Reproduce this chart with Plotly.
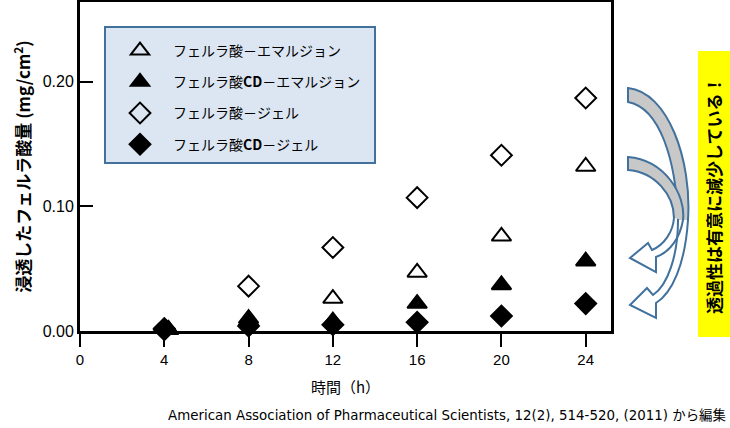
import plotly.graph_objects as go

# ---- data ----
series_names = [
    "フェルラ酸－エマルジョン",
    "フェルラ酸<b>CD</b>－エマルジョン",
    "フェルラ酸－ジェル",
    "フェルラ酸<b>CD</b>－ジェル",
]
time_emulsion = [4.2, 8, 12, 16, 20, 24]
time_gel = [4, 8, 12, 16, 20, 24]
fa_emulsion = [0.001, 0.010, 0.026, 0.047, 0.076, 0.132]
facd_emulsion = [0.001, 0.008, 0.008, 0.022, 0.037, 0.056]
fa_gel = [0.002, 0.036, 0.067, 0.107, 0.141, 0.187]
facd_gel = [0.001, 0.004, 0.005, 0.007, 0.012, 0.022]
x_ticks = [0, 4, 8, 12, 16, 20, 24]
y_ticks = [0.0, 0.1, 0.2]

# ---- layout geometry (pixels) ----
W, H = 730, 428
L, R, T, B = 80, 611, 2, 331
pw, ph = R - L, B - T


def px(x, y):
    return (x - L) / pw, (B - y) / ph


def path(cmds):
    out = []
    for c in cmds:
        if isinstance(c, str):
            out.append(c)
        else:
            xx, yy = px(*c)
            out.append(f"{xx:.4f},{yy:.4f}")
    return " ".join(out)


FONT = "Liberation Sans, Arial, Noto Sans CJK JP"
JP = "Noto Sans CJK JP, Liberation Sans"

fig = go.Figure()
styles = [
    (time_emulsion, fa_emulsion, "triangle-up-open", 17),
    (time_emulsion, facd_emulsion, "triangle-up", 17),
    (time_gel, fa_gel, "diamond-open", 16),
    (time_gel, facd_gel, "diamond", 16),
]
for i, ((xs, ys, sym, sz), name) in enumerate(zip(styles, series_names)):
    fig.add_trace(go.Scatter(
        x=xs, y=ys, mode="markers", name=name, legendgroup=f"g{i}",
        cliponaxis=False,
        marker=dict(symbol=sym, size=sz, color="black",
                    line=dict(color="black", width=2)),
    ))

arrow_col = "#41719c"
shapes = []
# legend box
lx0, ly0 = px(105, 163)
lx1, ly1 = px(375, 27)
shapes.append(dict(type="rect", xref="paper", yref="paper", x0=lx0, y0=ly0, x1=lx1, y1=ly1,
                   fillcolor="#dce6f2", line=dict(color=arrow_col, width=2), layer="below"))
# outer arrow: gray tail part
shapes.append(dict(type="path", xref="paper", yref="paper", layer="above",
                   path=path(["M", (628, 88), "C", (668, 92), (692, 160), (688, 220),
                              "L", (678, 220), "C", (676, 160), (660, 108), (628, 102), "Z"]),
                   fillcolor="#c8c8c8", line=dict(width=0)))
shapes.append(dict(type="path", xref="paper", yref="paper", layer="above",
                   path=path(["M", (628, 88), "C", (668, 92), (692, 160), (688, 220),
                              "C", (685, 265), (672, 293), (656, 303),
                              "L", (656, 318), "L", (630, 305), "L", (647, 288),
                              "L", (653, 295),
                              "C", (668, 285), (678, 255), (678, 220),
                              "C", (676, 160), (660, 108), (628, 102), "Z"]),
                   fillcolor="rgba(0,0,0,0)", line=dict(color=arrow_col, width=2)))
# inner arrow
shapes.append(dict(type="path", xref="paper", yref="paper", layer="above",
                   path=path(["M", (628, 157), "C", (665, 160), (686, 195), (683, 220),
                              "L", (674, 218), "C", (674, 195), (655, 172), (628, 170), "Z"]),
                   fillcolor="#c8c8c8", line=dict(width=0)))
shapes.append(dict(type="path", xref="paper", yref="paper", layer="above",
                   path=path(["M", (628, 157), "C", (665, 160), (686, 195), (683, 220),
                              "C", (680, 238), (670, 252), (656, 257),
                              "L", (656, 272), "L", (630, 258), "L", (648, 243),
                              "L", (652, 250),
                              "C", (664, 245), (673, 232), (674, 218),
                              "C", (674, 195), (655, 172), (628, 170), "Z"]),
                   fillcolor="rgba(0,0,0,0)", line=dict(color=arrow_col, width=2)))
# yellow box
x0, y0 = px(698, 337)
x1, y1 = px(730, 51)
shapes.append(dict(type="rect", xref="paper", yref="paper", x0=x0, y0=y0, x1=x1, y1=y1,
                   fillcolor="#ffff00", line=dict(width=0), layer="below"))

annotations = [
    dict(text="<b>透過性は有意に減少している！</b>", xref="paper", yref="paper",
         x=px(714, 0)[0], y=px(0, 195)[1], showarrow=False, textangle=-90,
         font=dict(family=JP, size=17, color="black"),
         xanchor="center", yanchor="middle"),
    dict(text="American Association of Pharmaceutical Scientists, 12(2), 514-520, (2011) から編集",
         xref="paper", yref="paper", x=px(728, 0)[0], y=px(0, 415)[1], showarrow=False,
         xanchor="right", yanchor="middle",
         font=dict(family="DejaVu Sans, Noto Sans CJK JP", size=13.4, color="black")),
]

fig.update_layout(
    width=W, height=H,
    margin=dict(l=L, r=W - R, t=T, b=H - B, pad=0, autoexpand=False),
    paper_bgcolor="white", plot_bgcolor="rgba(0,0,0,0)",
    font=dict(family=FONT, color="black"),
    showlegend=True,
    legend=dict(x=px(107, 0)[0], y=px(0, 35)[1], xanchor="left", yanchor="top",
                bgcolor="rgba(0,0,0,0)", borderwidth=0,
                font=dict(family=JP, size=14, color="black"),
                traceorder="grouped", tracegroupgap=10, itemwidth=56,
                itemsizing="trace"),
    shapes=shapes, annotations=annotations,
    xaxis=dict(range=[0, 25.2], tickvals=x_ticks, ticktext=[str(v) for v in x_ticks],
               ticks="outside", ticklen=13, tickwidth=2, tickcolor="black",
               showline=True, linecolor="black", linewidth=3, mirror=True,
               showgrid=False, zeroline=False, automargin=False,
               tickfont=dict(family=FONT, size=15),
               title=dict(text="時間（h）", font=dict(family=JP, size=15), standoff=16)),
    yaxis=dict(range=[0, 0.264], tickvals=y_ticks, ticktext=[f"{v:.2f}" for v in y_ticks],
               ticks="inside", ticklen=13, tickwidth=2, tickcolor="black",
               showline=True, linecolor="black", linewidth=3, mirror=True,
               showgrid=False, zeroline=False, automargin=False,
               tickfont=dict(family=FONT, size=16),
               title=dict(text="<b>浸透したフェルラ酸量 (mg/cm<sup>2</sup>)</b>",
                          font=dict(family=JP, size=17), standoff=8)),
)

fig.write_html("out.html", config={"displayModeBar": False},
               post_script="document.body.style.margin='0';document.body.style.padding='0';")
